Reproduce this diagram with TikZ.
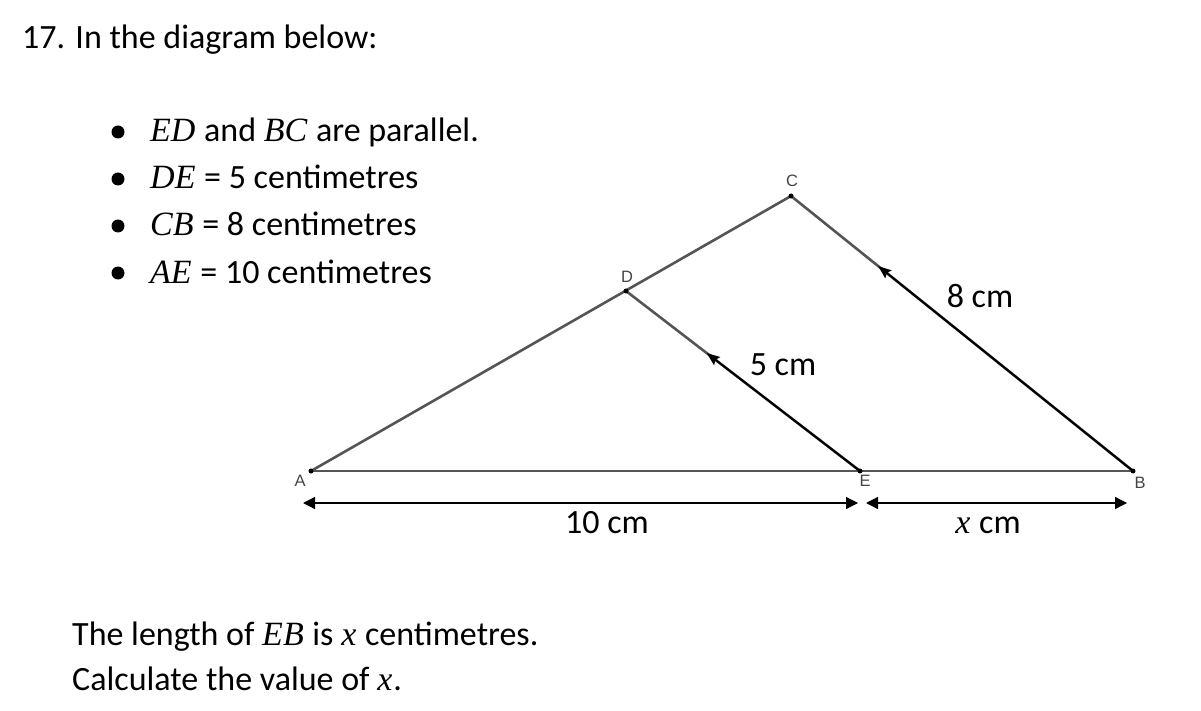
\documentclass[tikz,border=0pt]{standalone}
\usepackage{fontspec}
\setmainfont{Carlito}
\newfontfamily\mfont{Liberation Serif}
\newfontfamily\lblfont{Liberation Sans}
\usetikzlibrary{arrows.meta,calc}
\newcommand{\mv}[1]{{\mfont\itshape #1\kern1pt}}
\definecolor{edge}{HTML}{555555}
\definecolor{lbl}{HTML}{444444}
\tikzset{
  txt/.style={inner sep=0pt, anchor=base west, font=\fontsize{34}{40}\selectfont},
  dimtxt/.style={inner sep=0pt, anchor=base, font=\fontsize{34}{40}\selectfont},
  bul/.style={circle, fill=black, inner sep=0pt, minimum size=13pt},
  ptlbl/.style={inner sep=0pt, text=lbl, font=\lblfont\fontsize{16.5}{16}\selectfont},
  pt/.style={circle, fill=black, inner sep=0pt, minimum size=5pt},
  edgeline/.style={draw=edge, line width=2.6pt},
  vecline/.style={draw=black, line width=2pt, -{Stealth[length=13pt,width=10pt,inset=2pt]}},
  dimline/.style={draw=black, line width=1.3pt, -{Triangle[length=12pt,width=12pt]}}
}
\begin{document}
\begin{tikzpicture}[x=1pt,y=-1pt]
\useasboundingbox (0,0) rectangle (1201,711);
% text
\node[txt] (title) at (22,49) {17. In the diagram below:};
\node[bul] (b1) at (118,132) {};
\node[bul] (b2) at (118,179) {};
\node[bul] (b3) at (118,226) {};
\node[bul] (b4) at (118,273) {};
\node[txt] (t1) at (150,142) {\mv{ED} and \mv{BC} are parallel.};
\node[txt] (t2) at (150,189) {\mv{DE} = 5 centimetres};
\node[txt] (t3) at (150,236) {\mv{CB} = 8 centimetres};
\node[txt] (t4) at (150,283) {\mv{AE} = 10 centimetres};
\node[txt] (q1) at (72,645) {The length of \mv{EB} is \mv{x} centimetres.};
\node[txt] (q2) at (72,690) {Calculate the value of \mv{x}.};
% geometry
\coordinate (A) at (311,471);
\coordinate (E) at (860,471);
\coordinate (B) at (1133,471);
\coordinate (D) at (626,291);
\coordinate (C) at (791,196);
\draw[edgeline] (A) -- (B);
\draw[edgeline] (A) -- (C);
\draw[edgeline] (D) -- (E);
\draw[edgeline] (C) -- (B);
\draw[vecline] (E) -- ($(E)!0.655!(D)$);
\draw[vecline] (B) -- ($(B)!0.745!(C)$);
\foreach \p in {A,E,B,D,C} \node[pt] at (\p) {};
\node[ptlbl] (lA) at (300,481) {A};
\node[ptlbl] (lE) at (865,481) {E};
\node[ptlbl] (lB) at (1140,483) {B};
\node[ptlbl] (lD) at (627,277) {D};
\node[ptlbl] (lC) at (792,181) {C};
% dimensions
\coordinate (d1) at (303,503);
\coordinate (d2) at (858,503);
\coordinate (d3) at (866,503);
\coordinate (d4) at (1127,503);
\coordinate (dm) at (582,503);
\coordinate (dn) at (996,503);
\draw[dimline] (dm) -- (d1);
\draw[dimline] (dm) -- (d2);
\draw[dimline] (dn) -- (d3);
\draw[dimline] (dn) -- (d4);
\node[dimtxt] (l10) at (607,533) {10 cm};
\node[dimtxt] (lx) at (988,533) {\mv{x} cm};
\node[dimtxt] (l5) at (783,375) {5 cm};
\node[dimtxt] (l8) at (980,307) {8 cm};
\end{tikzpicture}
\end{document}
